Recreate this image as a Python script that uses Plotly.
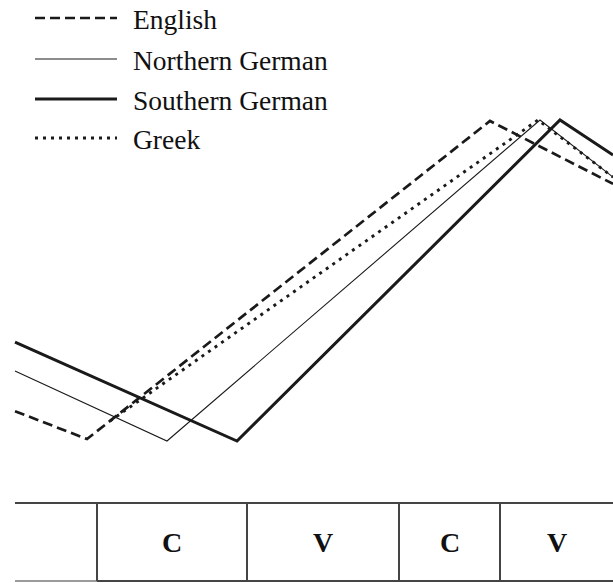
import plotly.graph_objects as go

# ---- data (time units along x, relative pitch: trough = 0, peak = 100) ----
english_t = [15, 87, 490, 613]
english_f = [9.3, 0.6, 99.7, 80.1]

northern_t = [15, 167, 540, 613]
northern_f = [21.8, 0.0, 100.0, 82.2]

southern_t = [15, 237, 560, 613]
southern_f = [30.8, 0.0, 100.0, 89.1]

greek_t = [110, 538, 613]
greek_f = [6.2, 100.0, 82.2]

series_names = ["English", "Northern German", "Southern German", "Greek"]

segment_bounds = [15, 97, 247, 399, 500, 613]
segment_labels = ["", "C", "V", "C", "V"]

# ---- styling ----
W, H = 613, 583
INK = "#1a1a1a"
styles = {
    "English": dict(width=2.7, dash="10px,5px"),
    "Northern German": dict(width=1.1, dash="solid"),
    "Southern German": dict(width=3.0, dash="solid"),
    "Greek": dict(width=2.9, dash="3px,5px"),
}
data = {
    "English": (english_t, english_f),
    "Northern German": (northern_t, northern_f),
    "Southern German": (southern_t, southern_f),
    "Greek": (greek_t, greek_f),
}

fig = go.Figure()
for name in series_names:
    t, f = data[name]
    st = styles[name]
    fig.add_trace(go.Scatter(
        x=t, y=f, mode="lines", name=name,
        line=dict(color=INK, width=st["width"], dash=st["dash"]),
        showlegend=False, hoverinfo="skip",
    ))

# pixel mapping: value 0 -> 441 px from top, value 100 -> 120 px from top
ppu = (441 - 120) / 100.0
y_max = 441 / ppu
y_min = (441 - H) / ppu

def py(pix):
    return 1 - pix / H

shapes = []
annotations = []

# legend (manual)
leg_rows = [18, 59, 99, 138]
for name, row in zip(series_names, leg_rows):
    st = styles[name]
    shapes.append(dict(type="line", xref="paper", yref="paper",
                       x0=35 / W, x1=117 / W, y0=py(row), y1=py(row),
                       line=dict(color=INK, width=st["width"], dash=st["dash"])))
    annotations.append(dict(text=name, xref="paper", yref="paper",
                            x=131 / W, y=py(row + 1), xanchor="left", yanchor="middle",
                            showarrow=False,
                            font=dict(family="Liberation Serif", size=27.5, color="#111111")))

# segment table
tbl_top, tbl_bot = 503, 581
GRID = "#444444"
shapes.append(dict(type="line", xref="x", yref="paper",
                   x0=segment_bounds[0], x1=segment_bounds[-1], y0=py(tbl_top), y1=py(tbl_top),
                   line=dict(color=GRID, width=2)))
shapes.append(dict(type="line", xref="x", yref="paper",
                   x0=segment_bounds[0], x1=segment_bounds[1], y0=py(tbl_bot), y1=py(tbl_bot),
                   line=dict(color="#9a9a9a", width=2)))
shapes.append(dict(type="line", xref="x", yref="paper",
                   x0=segment_bounds[1], x1=segment_bounds[-1], y0=py(tbl_bot), y1=py(tbl_bot),
                   line=dict(color=GRID, width=2)))
for b in segment_bounds[1:-1]:
    shapes.append(dict(type="line", xref="x", yref="paper",
                       x0=b, x1=b, y0=py(tbl_top), y1=py(tbl_bot),
                       line=dict(color=GRID, width=2)))
for i, lab in enumerate(segment_labels):
    if not lab:
        continue
    cx = (segment_bounds[i] + segment_bounds[i + 1]) / 2
    annotations.append(dict(text=f"<b>{lab}</b>", xref="x", yref="paper",
                            x=cx, y=py((tbl_top + tbl_bot) / 2), xanchor="center", yanchor="middle",
                            showarrow=False,
                            font=dict(family="Liberation Serif", size=28, color="#111111")))

fig.update_layout(
    width=W, height=H,
    margin=dict(l=0, r=0, t=0, b=0),
    paper_bgcolor="white", plot_bgcolor="white",
    xaxis=dict(range=[0, W], visible=False, fixedrange=True),
    yaxis=dict(range=[y_min, y_max], visible=False, fixedrange=True),
    shapes=shapes, annotations=annotations,
)

fig.write_html(
    "out.html",
    config={"displayModeBar": False},
    post_script="document.body.style.margin='0';document.body.style.padding='0';document.body.style.overflow='hidden';",
)
